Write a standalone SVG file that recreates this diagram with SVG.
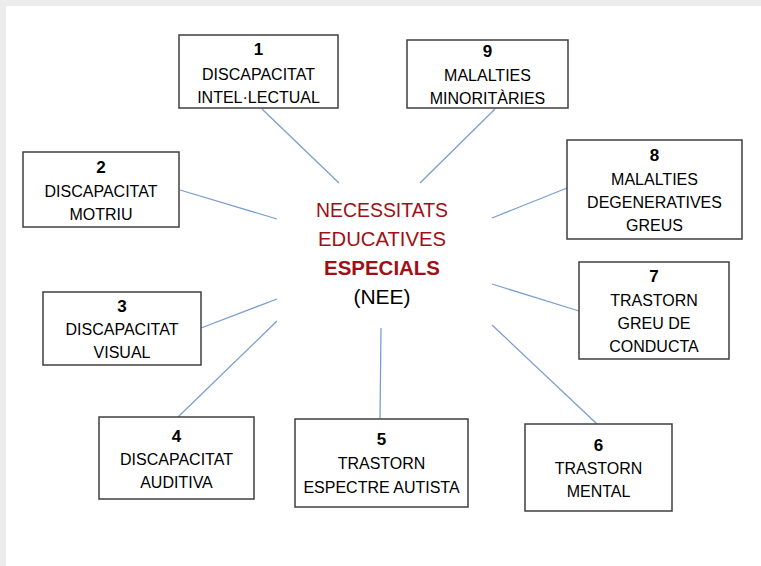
<svg xmlns="http://www.w3.org/2000/svg" width="761" height="566" viewBox="0 0 761 566">
<style>
.box{fill:#fff;stroke:#3f3f3f;stroke-width:1.5}
.t{font-family:"Liberation Sans",Arial,sans-serif;font-size:16px;fill:#000;text-anchor:middle}
.n{font-weight:bold;font-size:17px}
.c{font-family:"Liberation Sans",Arial,sans-serif;font-size:21px;text-anchor:middle;fill:#a00f14}
.conn line{stroke:#7b9fcf;stroke-width:1.3}
</style>
<rect x="0" y="0" width="761" height="566" fill="#ececec"/>
<rect x="6" y="6" width="755" height="560" fill="#fff"/>
<g class="conn" id="connectors">
<line x1="262" y1="109" x2="339" y2="183"/>
<line x1="495" y1="109" x2="420" y2="183"/>
<line x1="180" y1="190" x2="277" y2="219"/>
<line x1="567" y1="188" x2="492" y2="218"/>
<line x1="201" y1="328" x2="277" y2="299"/>
<line x1="178" y1="417" x2="277" y2="321"/>
<line x1="381" y1="328" x2="380" y2="419"/>
<line x1="579" y1="311" x2="492" y2="284"/>
<line x1="597" y1="424" x2="492" y2="325"/>
</g>
<g id="center">
<text class="c" x="382" y="217" textLength="132" lengthAdjust="spacingAndGlyphs">NECESSITATS</text>
<text class="c" x="382" y="246" textLength="128" lengthAdjust="spacingAndGlyphs">EDUCATIVES</text>
<text class="c" x="382" y="275" font-weight="bold" textLength="116" lengthAdjust="spacingAndGlyphs">ESPECIALS</text>
<text class="c" x="382" y="304" style="fill:#000">(NEE)</text>
</g>
<g id="n1">
<rect class="box" x="179" y="35" width="159" height="73"/>
<text class="t n" x="258.5" y="55">1</text>
<text class="t" x="258.5" y="80">DISCAPACITAT</text>
<text class="t" x="258.5" y="103">INTEL·LECTUAL</text>
</g>
<g id="n9">
<rect class="box" x="407" y="40" width="161" height="68"/>
<text class="t n" x="487.5" y="57">9</text>
<text class="t" x="487.5" y="81">MALALTIES</text>
<text class="t" x="487.5" y="104">MINORITÀRIES</text>
</g>
<g id="n2">
<rect class="box" x="23" y="152" width="156" height="75"/>
<text class="t n" x="101" y="173">2</text>
<text class="t" x="101" y="197">DISCAPACITAT</text>
<text class="t" x="101" y="220">MOTRIU</text>
</g>
<g id="n8">
<rect class="box" x="567" y="140" width="175" height="99"/>
<text class="t n" x="654.5" y="161">8</text>
<text class="t" x="654.5" y="185">MALALTIES</text>
<text class="t" x="654.5" y="208">DEGENERATIVES</text>
<text class="t" x="654.5" y="231">GREUS</text>
</g>
<g id="n7">
<rect class="box" x="579" y="262" width="150" height="97"/>
<text class="t n" x="654" y="282">7</text>
<text class="t" x="654" y="306">TRASTORN</text>
<text class="t" x="654" y="329">GREU DE</text>
<text class="t" x="654" y="352">CONDUCTA</text>
</g>
<g id="n3">
<rect class="box" x="43" y="292" width="158" height="73"/>
<text class="t n" x="122" y="312">3</text>
<text class="t" x="122" y="335">DISCAPACITAT</text>
<text class="t" x="122" y="358">VISUAL</text>
</g>
<g id="n4">
<rect class="box" x="99" y="417" width="155" height="82"/>
<text class="t n" x="176.5" y="442">4</text>
<text class="t" x="176.5" y="465">DISCAPACITAT</text>
<text class="t" x="176.5" y="488">AUDITIVA</text>
</g>
<g id="n5">
<rect class="box" x="295" y="419" width="173" height="88"/>
<text class="t n" x="381.5" y="445">5</text>
<text class="t" x="381.5" y="469">TRASTORN</text>
<text class="t" x="381.5" y="493">ESPECTRE AUTISTA</text>
</g>
<g id="n6">
<rect class="box" x="525" y="424" width="147" height="87"/>
<text class="t n" x="598.5" y="451">6</text>
<text class="t" x="598.5" y="474">TRASTORN</text>
<text class="t" x="598.5" y="497">MENTAL</text>
</g>
</svg>
